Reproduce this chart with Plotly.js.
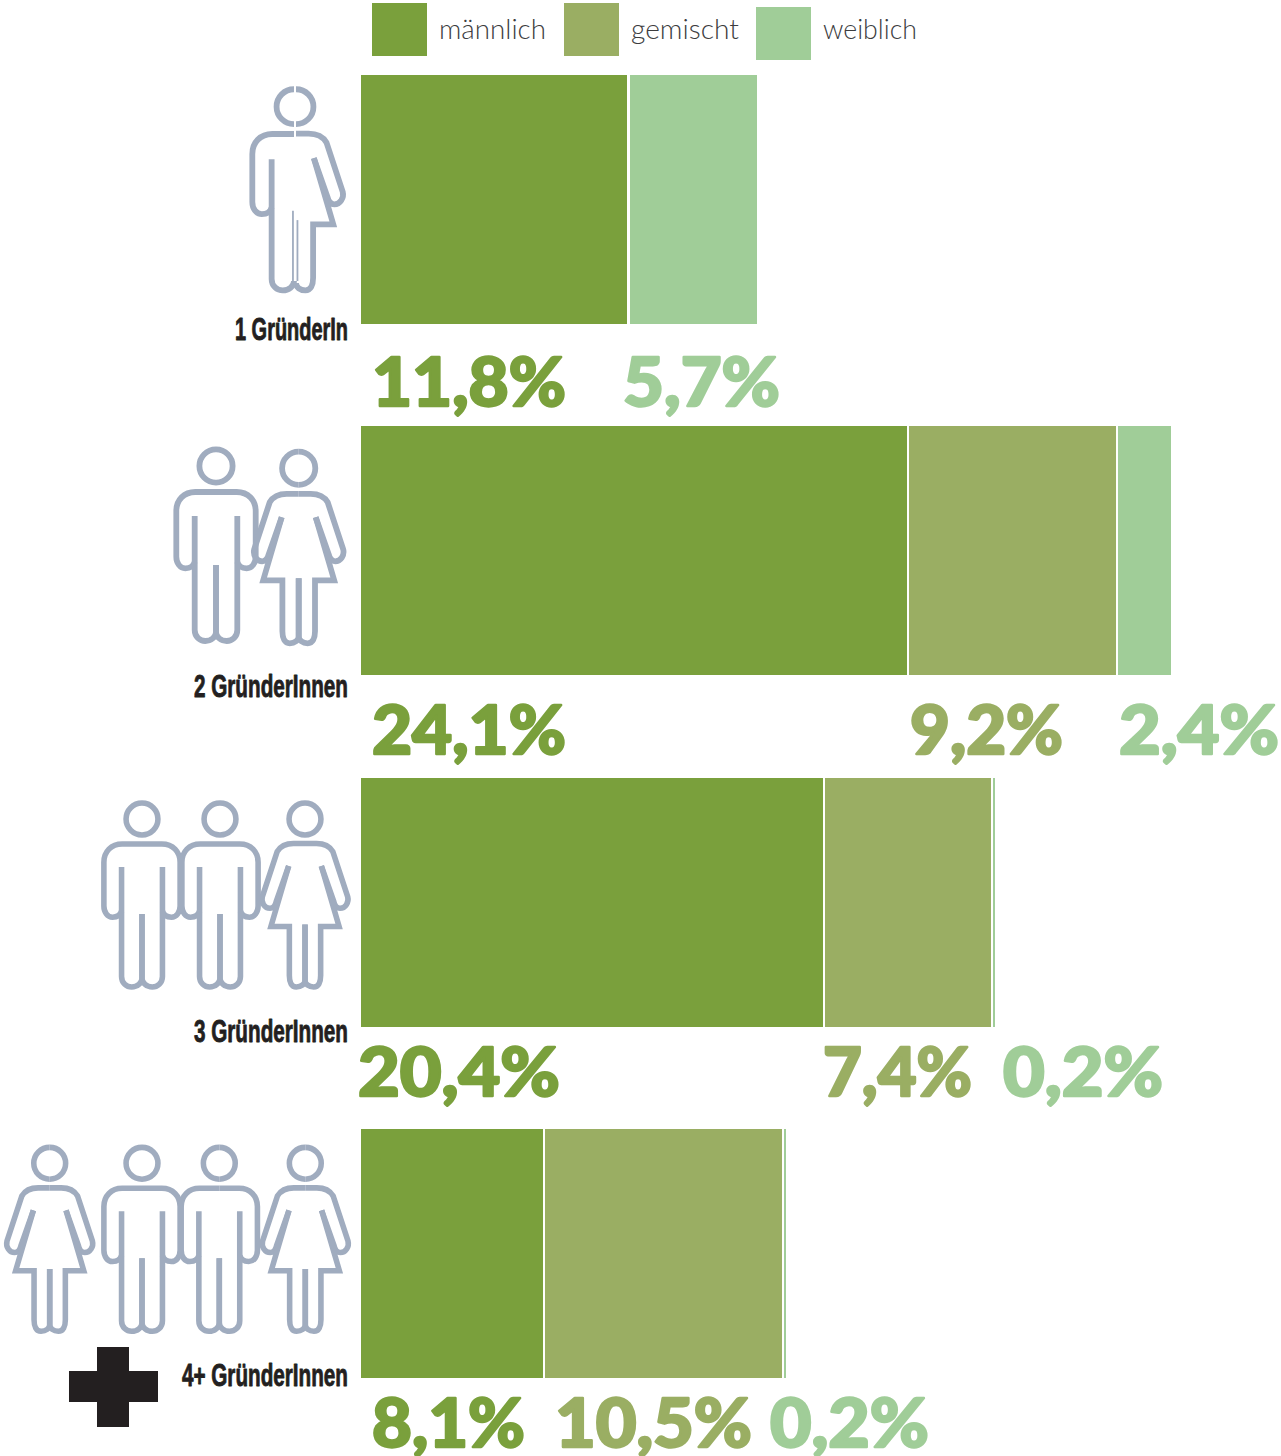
<!DOCTYPE html>
<html><head><meta charset="utf-8">
<script src="https://cdn.plot.ly/plotly-3.0.1.min.js"></script>
<style>html,body{margin:0;padding:0;background:#fff}#c{width:1281px;height:1456px}</style>
</head><body><div id="c"></div>
<script>
const groups = ['1 GründerIn','2 GründerInnen','3 GründerInnen','4+ GründerInnen'];
const maennlich = [11.8,24.1,20.4,8.1];
const gemischt = [0,9.2,7.4,10.5];
const weiblich = [5.7,2.4,0.2,0.2];
const seriesNames = ['männlich','gemischt','weiblich'];
const colors = ['#7AA03C','#9AAE63','#A0CD98'];
const iconColor = '#A0ACBF';
const W=1281,H=1456;
const pxPerUnit=22.74, x0=360;
const pitch=351.3, y0=199.5;

const traces=[maennlich,gemischt,weiblich].map((v,i)=>({
  type:'bar',orientation:'h',name:seriesNames[i],y:[0,1,2,3],x:v,width:0.716,
  marker:{color:colors[i],line:{color:'#fff',width:2.5}},hoverinfo:'x+name'
}));

const px=x=>(x/W).toFixed(5), py=y=>(1-y/H).toFixed(5);
function pathOf(segs,f){return segs.map(s=>{let o=s[0];for(let i=1;i<s.length;i+=2){const p=f(s[i],s[i+1]);o+=' '+px(p[0])+','+py(p[1]);}return o;}).join(' ');}
function xf(cx,cy,k,m){return (x,y)=>[cx+(m?-x:x)*k,cy+y*k];}
const manHalf=[['M',-21.3,50],['L',-21.3,164],['C',-21.3,171,-16,175,-10.7,175],['C',-5,175,0,171,0,166],['L',0,99]];
const manArm=[['M',0,26],['L',-20.7,26],['C',-32,26,-39.7,34,-39.7,45],['L',-39.7,90.7],['C',-39.7,97,-36,102.3,-30.7,102.3],['C',-26,102.3,-22.5,100,-21.3,96]];
const womHalf=[['M',-17,49],['L',-35.5,112],['L',-16.3,112],['L',-16.3,163],['C',-16.3,170,-14,175,-9,175],['C',-4,175,0,172,0,168],['L',0,110]];
const womArm=[['M',0,25.6],['L',-12,25.6],['C',-21,25.6,-26,29,-29,34],['L',-44.5,81],['C',-46,87,-42,93,-36.5,93],['C',-33,93,-31,90,-30,86],['L',-17,49]];
const headHalf=[['M',0,-16.6],['C',-9.2,-16.6,-16.6,-9.2,-16.6,0],['C',-16.6,9.2,-9.2,16.6,0,16.6]];
function st(path,w){return {type:'path',xref:'paper',yref:'paper',path:path,line:{color:iconColor,width:w},fillcolor:'rgba(0,0,0,0)'};}
function person(kind,cx,cy,k){
  const out=[],hb=kind==='m'?manHalf:womHalf,ar=kind==='m'?manArm:womArm;
  [false,true].forEach(m=>{const f=xf(cx,cy,k,m);
    [headHalf,ar,hb].forEach(seg=>out.push(st(pathOf(seg,f),5.8*k)));});
  return out;
}
function unisex(cx,cy,k){
  const out=[],L=xf(cx-1,cy,k,false),R=xf(cx+1,cy,k,true);
  const w=5.8;
  out.push(st(pathOf(headHalf,L),w),st(pathOf(headHalf,R),w));
  out.push(st(pathOf(manArm,L),w),st(pathOf(manHalf.slice(0,4),L),w));
  out.push(st(pathOf(womArm,R),w),st(pathOf(womHalf.slice(0,6),R),w));
  out.push(st(pathOf([['M',-1,99],['L',-1,168]],xf(cx-1,cy,k,false)),1.8));
  out.push(st(pathOf([['M',-1,108],['L',-1,166]],xf(cx+3.5,cy,k,false)),1.8));
  return out;
}
const people=[
  ...unisex(295,106.7,1.05),
  ...person('m',216,466,1),...person('w',298.7,468.3,1),
  ...person('m',142,819,0.96),...person('m',220,819,0.96),...person('w',305,819,0.96),
  ...person('w',49.7,1163.3,0.96),...person('m',142,1163.3,0.96),...person('m',219.3,1163.3,0.96),...person('w',305.3,1163.3,0.96)
];
const plus={type:'path',xref:'paper',yref:'paper',line:{width:0},fillcolor:'#231F20',
  path:pathOf([['M',97,1347],['L',129,1347],['L',129,1371],['L',158,1371],['L',158,1402],['L',129,1402],['L',129,1427],['L',97,1427],['L',97,1402],['L',69,1402],['L',69,1371],['L',97,1371],['Z']],(x,y)=>[x,y])};

const swatchX=[372,564,756], swatchY=[3,3,7];
const swatches=swatchX.map((x,i)=>({type:'rect',xref:'paper',yref:'paper',x0:x/W,x1:(x+55)/W,y0:1-(swatchY[i]+53)/H,y1:1-swatchY[i]/H,fillcolor:colors[i],line:{width:0}}));

// text label rows: text, left edge, right edge, vertical centre
const legendRows=[['männlich',439,546,28],['gemischt',631,739,28],['weiblich',823,917,28]];
const groupRows=[[groups[0],235,348,329],[groups[1],194,348,686],[groups[2],194,348,1031],[groups[3],182,348,1375]];
const valueRows=[
 ['11,8%',372,566,381,0],['5,7%',623,780,381,2],
 ['24,1%',372,566,728,0],['9,2%',910,1063,728,1],['2,4%',1119,1279,728,2],
 ['20,4%',358,560,1070,0],['7,4%',823,972,1070,1],['0,2%',1003,1163,1070,2],
 ['8,1%',372,525,1421,0],['10,5%',555,752,1421,1],['0,2%',770,929,1421,2]];
const ann=(r,yc,font)=>({text:r[0],xref:'paper',yref:'paper',x:r[1]/W,y:1-yc/H,xanchor:'left',yanchor:'middle',showarrow:false,font:font});
const annotations=[
 ...legendRows.map(r=>ann(r,r[3],{family:'Lato',size:27,weight:300,color:'#3C3C3E'})),
 ...groupRows.map(r=>ann(r,r[3],{family:'Liberation Sans',size:32,weight:700,color:'#231F20'})),
 ...valueRows.map(r=>ann(r,r[3],{family:'Lato Black, Lato',size:66,weight:900,color:colors[r[4]]}))];
const rows=[...legendRows.map(r=>[r[1],r[2],0]),...groupRows.map(r=>[r[1],r[2],0.9]),...valueRows.map(r=>[r[1],r[2],2.4])];

const layout={width:W,height:H,margin:{l:0,r:0,t:0,b:0,pad:0},paper_bgcolor:'#fff',plot_bgcolor:'#fff',
  barmode:'stack',bargap:0,showlegend:false,
  xaxis:{range:[-x0/pxPerUnit,(W-x0)/pxPerUnit],visible:false,fixedrange:true},
  yaxis:{range:[(H-y0)/pitch,-y0/pitch],visible:false,fixedrange:true},
  shapes:[...swatches,...people,plus],
  annotations:annotations};
Plotly.newPlot('c',traces,layout,{displayModeBar:false,staticPlot:true}).then(gd=>{
  gd.querySelectorAll('.annotation-text').forEach((el,i)=>{
    const r=rows[i]; if(!r) return;
    if(r[2]){el.style.stroke=el.style.fill;el.style.strokeWidth=r[2]+'px';el.style.strokeLinejoin='round';}
    const sx=(r[1]-r[0])/el.getComputedTextLength();
    el.setAttribute('transform','scale('+sx+',1)');
    const b=el.getBoundingClientRect();
    el.setAttribute('transform','translate('+(r[0]-b.left)+',0) scale('+sx+',1)');
  });
});
</script></body></html>
